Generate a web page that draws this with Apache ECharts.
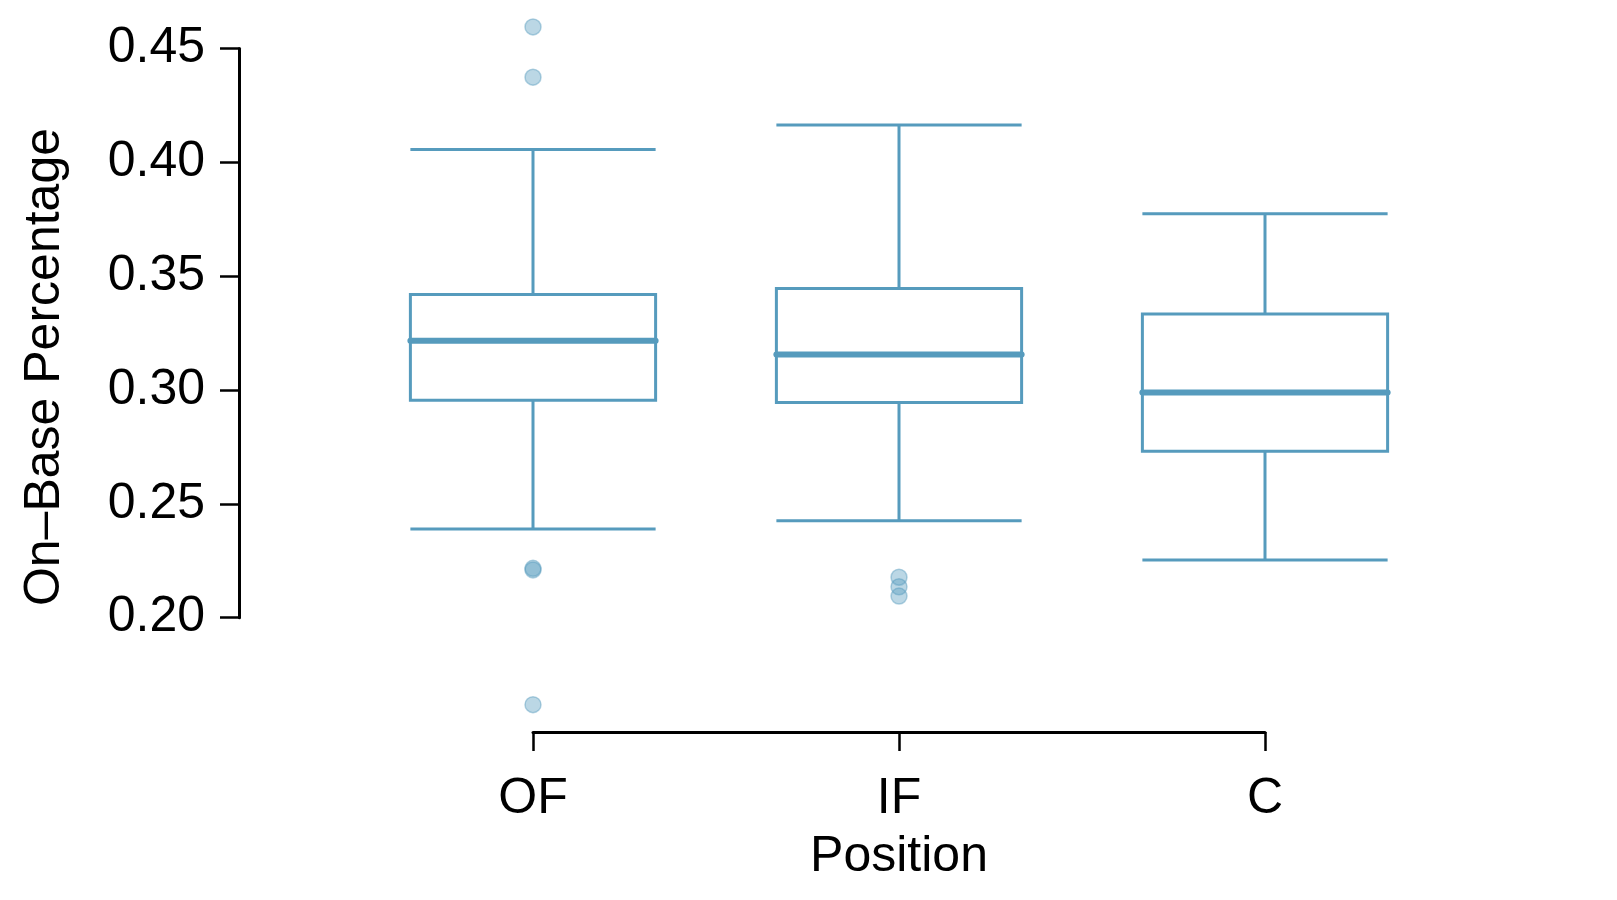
<!DOCTYPE html>
<html>
<head>
<meta charset="UTF-8">
<title>On-Base Percentage by Position</title>
<script src="https://cdn.jsdelivr.net/npm/echarts@6/dist/echarts.min.js"></script>
<style>
  html, body { margin: 0; padding: 0; background: #fff; }
  #container { width: 1617px; height: 900px; }
</style>
</head>
<body>
<div id="container"></div>
<script type="text/javascript">
// categories
var positions = ['OF', 'IF', 'C'];
// box stats per position: [lower whisker, Q1, median, Q3, upper whisker]
var boxStats = [
  [0.2390, 0.2955, 0.3217, 0.3420, 0.4057],
  [0.2426, 0.2946, 0.3156, 0.3446, 0.4165],
  [0.2254, 0.2731, 0.2989, 0.3334, 0.3775]
];
// outliers: [position index, value]
var outliers = [
  [0, 0.4596], [0, 0.4375], [0, 0.2217], [0, 0.2210], [0, 0.1618],
  [1, 0.2178], [1, 0.2136], [1, 0.2095]
];
var yTicks = [0.20, 0.25, 0.30, 0.35, 0.40, 0.45];

var blue = '#569BBD';
var font = 'Liberation Sans, Arial, Helvetica, sans-serif';

var dom = document.getElementById('container');
var myChart = echarts.init(dom);

var medians = boxStats.map(function (b, i) { return [i, b[2]]; });

var option = {
  animation: false,
  backgroundColor: '#fff',
  grid: [
    // data area
    { left: 350, right: 169, top: 14.6, bottom: 168.5 },
    // y axis only (0.20 - 0.45)
    { left: 239, width: 1, top: 48.5, bottom: 282.3 },
    // x axis only (OF - C)
    { left: 533, right: 352, top: 400, bottom: 168 }
  ],
  xAxis: [
    { gridIndex: 0, type: 'category', data: positions, boundaryGap: true, show: false },
    { gridIndex: 1, type: 'value', show: false },
    {
      gridIndex: 2, type: 'category', data: positions, boundaryGap: false,
      name: 'Position', nameLocation: 'middle', nameGap: 100,
      nameTextStyle: { fontFamily: font, fontSize: 50, color: '#000' },
      axisLine: { lineStyle: { color: '#000', width: 3 } },
      axisTick: { length: 19, lineStyle: { color: '#000', width: 2.5 } },
      axisLabel: { margin: 42, fontFamily: font, fontSize: 50, color: '#000' },
      splitLine: { show: false }
    }
  ],
  yAxis: [
    {
      gridIndex: 0, type: 'value', min: 0.15, max: 0.465,
      name: 'On\u2013Base Percentage', nameLocation: 'middle', nameGap: 280,
      nameTextStyle: { fontFamily: font, fontSize: 50, color: '#000', padding: [0, 0, 0, 12] },
      axisLine: { show: false }, axisTick: { show: false },
      axisLabel: { show: false }, splitLine: { show: false }
    },
    {
      gridIndex: 1, type: 'value', min: yTicks[0], max: yTicks[yTicks.length - 1], interval: 0.05,
      axisLine: { show: true, lineStyle: { color: '#000', width: 3 } },
      axisTick: { show: true, length: 19, lineStyle: { color: '#000', width: 2.5 } },
      axisLabel: {
        margin: 34, fontFamily: font, fontSize: 50, color: '#000',
        formatter: function (v) { return v.toFixed(2); }
      },
      splitLine: { show: false }
    },
    { gridIndex: 2, type: 'value', show: false }
  ],
  series: [
    {
      type: 'boxplot',
      xAxisIndex: 0, yAxisIndex: 0,
      data: boxStats,
      boxWidth: ['67%', '67%'],
      itemStyle: { color: 'transparent', borderColor: blue, borderWidth: 3 },
      emphasis: { disabled: true }
    },
    {
      // thicker median line
      type: 'custom',
      xAxisIndex: 0, yAxisIndex: 0,
      data: medians,
      renderItem: function (params, api) {
        var p = api.coord([api.value(0), api.value(1)]);
        var half = api.size([1, 0])[0] * 0.67 / 2;
        return {
          type: 'line',
          shape: { x1: p[0] - half, y1: p[1], x2: p[0] + half, y2: p[1] },
          style: { stroke: blue, lineWidth: 6, lineCap: 'round' }
        };
      }
    },
    {
      type: 'scatter',
      xAxisIndex: 0, yAxisIndex: 0,
      data: outliers,
      symbolSize: 16,
      itemStyle: {
        color: 'rgba(86,155,189,0.5)',
        borderColor: 'rgba(86,155,189,0.55)',
        borderWidth: 1.5
      }
    }
  ]
};

if (option && typeof option === 'object') {
  myChart.setOption(option, true);
}
</script>
</body>
</html>
